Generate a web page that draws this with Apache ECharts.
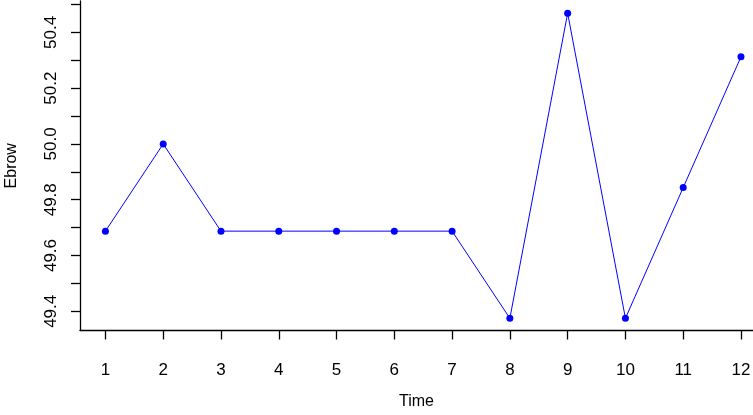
<!DOCTYPE html>
<html>
<head>
<meta charset="utf-8">
<script src="https://cdn.jsdelivr.net/npm/echarts@6/dist/echarts.min.js"></script>
<style>
html,body{margin:0;padding:0;background:#fff;}
#chart{width:753px;height:415px;}
</style>
</head>
<body>
<div id="chart"></div>
<script>
var timePoints = [1,2,3,4,5,6,7,8,9,10,11,12];
var ebrowValues = [49.6875,50.0,49.6875,49.6875,49.6875,49.6875,49.6875,49.375,50.46875,49.375,49.84375,50.3125];
var xTicks = [1,2,3,4,5,6,7,8,9,10,11,12];
var yTicks = [49.4,49.5,49.6,49.7,49.8,49.9,50.0,50.1,50.2,50.3,50.4,50.5];
var yLabels = [49.4,49.6,49.8,50.0,50.2,50.4];

var chart = echarts.init(document.getElementById('chart'));
var data = timePoints.map(function(t,i){return [t, ebrowValues[i]];});
var font = 'Liberation Sans, Arial, sans-serif';
chart.setOption({
  animation:false,
  grid:{left:80, right:0, top:1, bottom:84.5, containLabel:false, outerBoundsMode:'none'},
  xAxis:{
    type:'value', min:0.56, max:12.208,
    name:'Time', nameLocation:'middle', nameGap:63,
    nameTextStyle:{color:'#000', fontSize:16, fontFamily:font},
    axisLine:{show:true, lineStyle:{color:'#000', width:1.3}},
    axisTick:{show:true, length:9, lineStyle:{color:'#000', width:1.3}, customValues:xTicks},
    axisLabel:{color:'#000', fontSize:17, fontFamily:font, margin:31, customValues:xTicks,
      formatter:function(v){return String(Math.round(v));}},
    splitLine:{show:false}
  },
  yAxis:{
    type:'value', min:49.33125, max:50.5125,
    name:'Ebrow', nameLocation:'middle', nameGap:60, nameRotate:90,
    nameTextStyle:{color:'#000', fontSize:16, fontFamily:font},
    axisLine:{show:true, lineStyle:{color:'#000', width:1.3}},
    axisTick:{show:true, length:9, lineStyle:{color:'#000', width:1.3}, customValues:yTicks},
    axisLabel:{color:'#000', fontSize:17, fontFamily:font, margin:20, rotate:90, customValues:yLabels,
      formatter:function(v){return v.toFixed(1);}},
    splitLine:{show:false}
  },
  series:[{
    type:'line', data:data,
    symbol:'circle', symbolSize:7,
    itemStyle:{color:'#0000ff'},
    lineStyle:{color:'#0000ff', width:1},
    emphasis:{disabled:true}
  }]
});
</script>
</body>
</html>
